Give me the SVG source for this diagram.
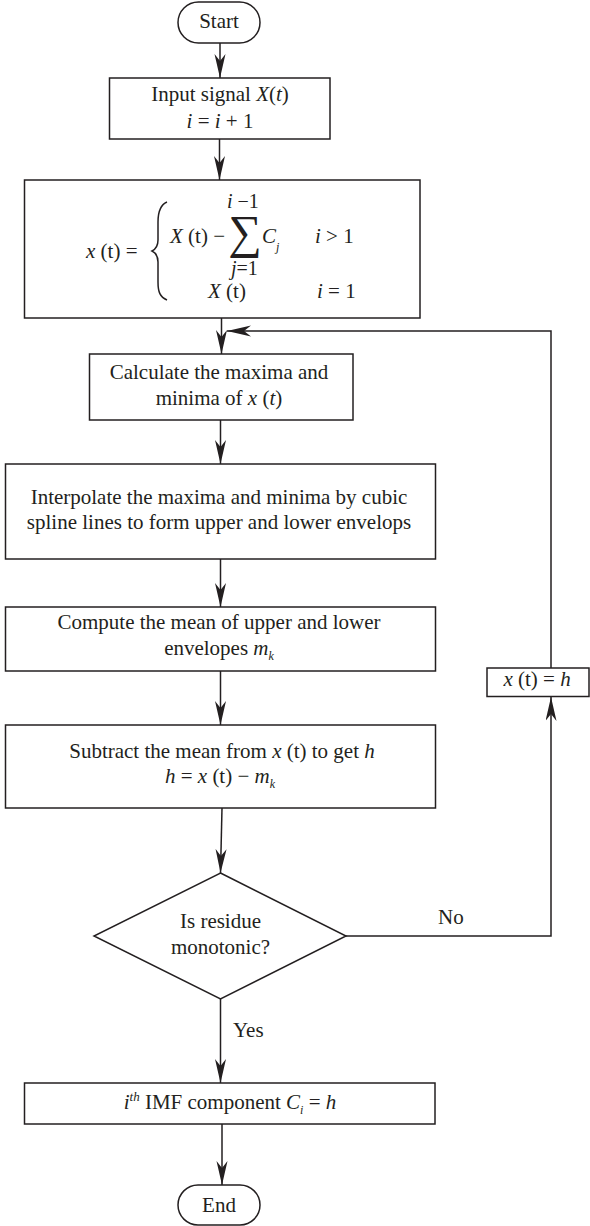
<svg xmlns="http://www.w3.org/2000/svg" width="590" height="1226" viewBox="0 0 590 1226">
<style>
.b{fill:#fff;stroke:#231f20;stroke-width:1.5}
.c{fill:none;stroke:#231f20;stroke-width:1.5}
text{font-family:"Liberation Serif","Times New Roman",serif;font-size:21px;fill:#231f20}
.m{text-anchor:middle}
.i{font-style:italic}
.s{font-size:12px}
</style>
<defs>
<marker id="ah" markerUnits="userSpaceOnUse" markerWidth="26" markerHeight="12" refX="24" refY="5.5" orient="auto">
<path d="M0,0 L24,5.5 L0,11 L7,5.5 z" fill="#231f20"/>
</marker>
</defs>
<rect width="590" height="1226" fill="#fff"/>
<g id="connectors">
<path class="c" d="M220,43 L220,78" marker-end="url(#ah)"/>
<path class="c" d="M219.5,139 L219.5,180" marker-end="url(#ah)"/>
<path class="c" d="M221.5,318 L221.5,354" marker-end="url(#ah)"/>
<path class="c" d="M220.5,420 L220.5,464" marker-end="url(#ah)"/>
<path class="c" d="M220.5,559 L220.5,607" marker-end="url(#ah)"/>
<path class="c" d="M220.5,671 L220.5,725" marker-end="url(#ah)"/>
<path class="c" d="M222,808 L220.5,873" marker-end="url(#ah)"/>
<path class="c" d="M220.5,999 L220.5,1083" marker-end="url(#ah)"/>
<path class="c" d="M222,1124 L222,1185" marker-end="url(#ah)"/>
<path class="c" d="M346,936 L551,936 L551,697" marker-end="url(#ah)"/>
<path class="c" d="M551,668 L551,331 L227,331" marker-end="url(#ah)"/>
<text x="233" y="1037">Yes</text>
<text x="438" y="924">No</text>
</g>
<g id="start">
<rect class="b" x="178" y="2" width="82" height="41" rx="20.5"/>
<text class="m" x="219" y="28">Start</text>
</g>
<g id="input">
<rect class="b" x="109.5" y="78" width="220.5" height="61"/>
<text class="m" x="220" y="101">Input signal <tspan class="i">X</tspan>(<tspan class="i">t</tspan>)</text>
<text class="m" x="220" y="128"><tspan class="i">i</tspan> = <tspan class="i">i</tspan> + 1</text>
</g>
<g id="formula">
<rect class="b" x="24.5" y="180" width="395.5" height="138"/>
<text x="86" y="258"><tspan class="i">x</tspan> (t) =</text>
<path class="c" stroke-width="1.9" d="M167,202 C160,205 158,212 158,222 L158,240 C158,246 156,249 152,251 C156,253 158,256 158,262 L158,282 C158,292 160,297 167,300"/>
<text x="227" y="208" style="font-size:20px"><tspan class="i">i</tspan> −1</text>
<text x="170" y="243"><tspan class="i">X</tspan> (t) −</text>
<text class="m" x="245" y="248" style="font-size:47px">∑</text>
<text x="262" y="243"><tspan class="i">C</tspan><tspan class="i s" dy="8">j</tspan></text>
<text x="315" y="243"><tspan class="i">i</tspan> &gt; 1</text>
<text x="231" y="275" style="font-size:20px"><tspan class="i">j</tspan>=1</text>
<text x="208" y="298"><tspan class="i">X</tspan> (t)</text>
<text x="317" y="298"><tspan class="i">i</tspan> = 1</text>
</g>
<g id="calc">
<rect class="b" x="89.5" y="354" width="263.5" height="66"/>
<text class="m" x="219" y="379">Calculate the maxima and</text>
<text class="m" x="219" y="405">minima of <tspan class="i">x</tspan> (<tspan class="i">t</tspan>)</text>
</g>
<g id="interp">
<rect class="b" x="5.5" y="464" width="430" height="95"/>
<text class="m" x="219" y="504">Interpolate the maxima and minima by cubic</text>
<text class="m" x="219" y="529">spline lines to form upper and lower envelops</text>
</g>
<g id="compute">
<rect class="b" x="5.5" y="607" width="430" height="64"/>
<text class="m" x="219" y="629">Compute the mean of upper and lower</text>
<text class="m" x="219" y="655">envelopes <tspan class="i">m</tspan><tspan class="i s" dy="5">k</tspan></text>
</g>
<g id="subtract">
<rect class="b" x="5.5" y="725" width="430" height="83"/>
<text class="m" x="222" y="758">Subtract the mean from <tspan class="i">x</tspan> (t) to get <tspan class="i">h</tspan></text>
<text class="m" x="220" y="783"><tspan class="i">h</tspan> = <tspan class="i">x</tspan> (t) − <tspan class="i">m</tspan><tspan class="i s" dy="5">k</tspan></text>
</g>
<g id="decision">
<polygon class="b" points="220.5,873 346,936 220.5,999 94,936"/>
<text class="m" x="220.5" y="928">Is residue</text>
<text class="m" x="220.5" y="954">monotonic?</text>
</g>
<g id="update">
<rect class="b" x="487" y="668" width="102" height="28.5"/>
<text class="m" x="537" y="686"><tspan class="i">x</tspan> (t) = <tspan class="i">h</tspan></text>
</g>
<g id="imf">
<rect class="b" x="24.5" y="1083" width="410.5" height="41"/>
<text class="m" x="230" y="1109"><tspan class="i">i</tspan><tspan class="i" style="font-size:13px" dy="-8">th</tspan><tspan dy="8"> IMF component </tspan><tspan class="i">C</tspan><tspan class="i s" dy="5">i</tspan><tspan dy="-5"> = </tspan><tspan class="i">h</tspan></text>
</g>
<g id="end">
<rect class="b" x="178" y="1185" width="82" height="40" rx="20"/>
<text class="m" x="219" y="1212">End</text>
</g>
</svg>
